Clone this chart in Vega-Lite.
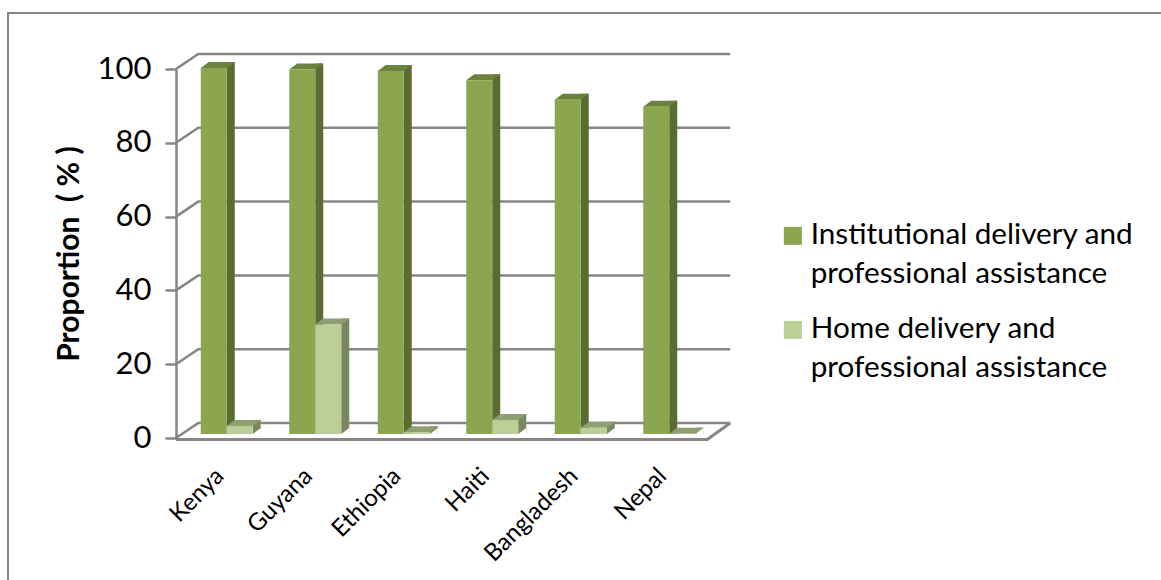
{
  "$schema": "https://vega.github.io/schema/vega-lite/v6.json",
  "width": 1163,
  "height": 577,
  "autosize": {"type": "none"},
  "padding": {"left": 8, "top": 13, "right": 0, "bottom": 0},
  "background": "white",
  "view": {"stroke": "#868686", "strokeWidth": 2, "fill": "white"},
  "datasets": {
    "delivery": [
      {"country": "Kenya", "series": "Institutional", "value": 99.2},
      {"country": "Guyana", "series": "Institutional", "value": 98.8},
      {"country": "Ethiopia", "series": "Institutional", "value": 98.4},
      {"country": "Haiti", "series": "Institutional", "value": 95.9},
      {"country": "Bangladesh", "series": "Institutional", "value": 90.6},
      {"country": "Nepal", "series": "Institutional", "value": 88.7},
      {"country": "Kenya", "series": "Home", "value": 2.2},
      {"country": "Guyana", "series": "Home", "value": 29.7},
      {"country": "Ethiopia", "series": "Home", "value": 0.5},
      {"country": "Haiti", "series": "Home", "value": 3.8},
      {"country": "Bangladesh", "series": "Home", "value": 1.7},
      {"country": "Nepal", "series": "Home", "value": 0.1}
    ],
    "ticks": [
      {"tick": 0}, {"tick": 20}, {"tick": 40}, {"tick": 60}, {"tick": 80}, {"tick": 100}
    ]
  },
  "encoding": {
    "x": {
      "field": "country",
      "type": "nominal",
      "sort": ["Kenya", "Guyana", "Ethiopia", "Haiti", "Bangladesh", "Nepal"],
      "scale": {"type": "band", "range": [168, 699], "paddingInner": 0, "paddingOuter": 0},
      "axis": {
        "title": null,
        "offset": -138,
        "domain": false,
        "ticks": false,
        "labelAngle": -45,
        "labelAlign": "right",
        "labelBaseline": "middle",
        "labelPadding": 20,
        "labelFont": "Lato",
        "labelFontSize": 24,
        "labelColor": "#000000",
        "labelOverlap": false
      }
    },
    "y": {
      "field": "value",
      "type": "quantitative",
      "scale": {"domain": [0, 100], "range": [425, 56], "nice": false},
      "axis": {
        "title": "Proportion\u00a0\u00a0( % )",
        "titleFont": "Lato",
        "titleFontSize": 30,
        "titleFontWeight": "bold",
        "titleColor": "#000000",
        "titlePadding": 13,
        "offset": -168,
        "values": [0, 20, 40, 60, 80, 100],
        "grid": false,
        "domainColor": "#868686",
        "domainWidth": 2.5,
        "tickColor": "#868686",
        "tickWidth": 2.5,
        "tickSize": 11,
        "labelFont": "Lato",
        "labelFontSize": 31,
        "labelColor": "#000000",
        "labelPadding": 14
      }
    }
  },
  "layer": [
    {
      "data": {"name": "ticks"},
      "mark": {
        "type": "point",
        "shape": "M-44.25,0 L-22,-15 L510,-15",
        "size": 4,
        "filled": false,
        "stroke": "#868686",
        "strokeWidth": 2.5,
        "opacity": 1
      },
      "encoding": {
        "x": {"datum": "Kenya"},
        "y": {"field": "tick", "type": "quantitative"}
      }
    },
    {
      "data": {"values": [{"tick": 0}]},
      "mark": {
        "type": "point",
        "shape": "M-44.25,1.5 L487,1.5 L510,-15",
        "size": 4,
        "filled": false,
        "stroke": "#868686",
        "strokeWidth": 3,
        "opacity": 1
      },
      "encoding": {
        "x": {"datum": "Kenya"},
        "y": {"field": "tick", "type": "quantitative"}
      }
    },
    {
      "data": {"name": "delivery"},
      "transform": [{"filter": "datum.series === 'Institutional'"}],
      "mark": {"type": "bar", "width": 8, "xOffset": 10.5, "yOffset": -10, "y2Offset": -4, "fill": "#5A6B33"},
      "encoding": {"y2": {"datum": 0}}
    },
    {
      "data": {"name": "delivery"},
      "transform": [{"filter": "datum.series === 'Institutional'"}],
      "mark": {
        "type": "point",
        "shape": "M0,0 L26,0 L34,-6 L8,-6 Z",
        "size": 4,
        "filled": true,
        "fill": "#6C823D",
        "opacity": 1,
        "xOffset": -19.5,
        "yOffset": -4
      }
    },
    {
      "data": {"name": "delivery"},
      "transform": [{"filter": "datum.series === 'Home'"}],
      "mark": {"type": "bar", "width": 8, "xOffset": 36.5, "yOffset": -10, "y2Offset": -4, "fill": "#78875F"},
      "encoding": {"y2": {"datum": 0}}
    },
    {
      "data": {"name": "delivery"},
      "transform": [{"filter": "datum.series === 'Home'"}],
      "mark": {
        "type": "point",
        "shape": "M0,0 L8,0 L8,-6 Z",
        "size": 4,
        "filled": true,
        "fill": "white",
        "opacity": 1,
        "xOffset": 32.5,
        "yOffset": -4
      },
      "encoding": {"y": {"datum": 0}}
    },
    {
      "data": {"name": "delivery"},
      "transform": [{"filter": "datum.series === 'Home'"}],
      "mark": {
        "type": "point",
        "shape": "M0,0 L26,0 L34,-6 L8,-6 Z",
        "size": 4,
        "filled": true,
        "fill": "#8E9F71",
        "opacity": 1,
        "xOffset": 6.5,
        "yOffset": -4
      }
    },
    {
      "data": {"name": "delivery"},
      "transform": [{"filter": "datum.series === 'Institutional'"}],
      "mark": {"type": "bar", "width": 26, "xOffset": -6.5, "yOffset": -4, "y2Offset": -4},
      "encoding": {
        "y2": {"datum": 0},
        "color": {
          "field": "series",
          "type": "nominal",
          "scale": {"domain": ["Institutional", "Home"], "range": ["#8BA64E", "#BBCE97"]},
          "legend": {
            "title": null,
            "orient": "none",
            "legendX": 770,
            "legendY": 208,
            "symbolType": "square",
            "symbolSize": 324,
            "symbolStrokeWidth": 0,
            "labelFont": "Lato",
            "labelFontSize": 29.7,
            "labelColor": "#000000",
            "labelLimit": 400,
            "labelBaseline": "top",
            "labelOffset": 3,
            "rowPadding": 24,
            "labelExpr": "datum.label === 'Institutional' ? ['Institutional delivery and', 'professional assistance'] : ['Home delivery and', 'professional assistance']",
            "encoding": {
              "labels": {"dy": {"value": -15}, "lineHeight": {"value": 39}}
            }
          }
        }
      }
    },
    {
      "data": {"name": "delivery"},
      "transform": [{"filter": "datum.series === 'Home'"}],
      "mark": {"type": "bar", "width": 26, "xOffset": 19.5, "yOffset": -4, "y2Offset": -4},
      "encoding": {
        "y2": {"datum": 0},
        "color": {"field": "series", "type": "nominal"}
      }
    }
  ]
}
